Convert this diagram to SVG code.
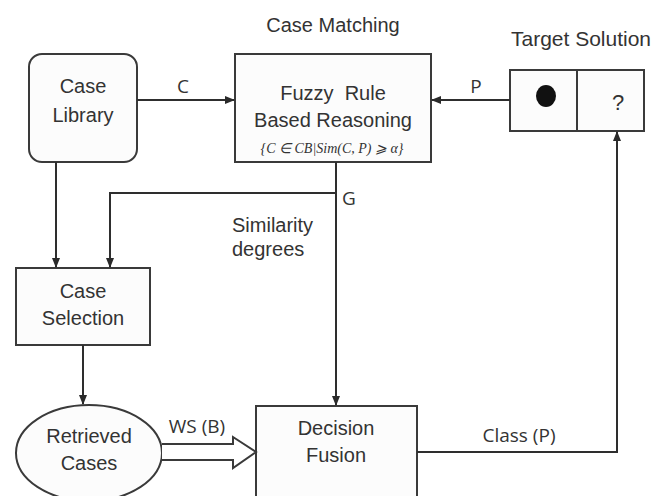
<svg xmlns="http://www.w3.org/2000/svg" width="653" height="496" viewBox="0 0 653 496">
<defs>
<marker id="ah" markerWidth="10" markerHeight="8" refX="9" refY="4" orient="auto" markerUnits="userSpaceOnUse">
<path d="M0,0 L10,4 L0,8 Z" fill="#2a2a2a"/>
</marker>
<style>
.box{fill:#fcfcfc;stroke:#3a3a3a;stroke-width:2}
.t{font-family:"Liberation Sans",Arial,sans-serif;font-size:20px;fill:#333;text-anchor:middle}
.lb{font-family:"Open Sans","Liberation Sans",sans-serif;font-size:19px;fill:#333;text-anchor:middle}
.ln{fill:none;stroke:#2e2e2e;stroke-width:2}
</style>
</defs>
<rect width="653" height="496" fill="#ffffff"/>
<text class="t" x="333" y="32">Case Matching</text>
<text class="t" x="581" y="46" style="font-size:21px">Target Solution</text>
<g id="case-library">
<rect class="box" x="29" y="54" width="108" height="108" rx="13"/>
<text class="t" x="83" y="93">Case</text>
<text class="t" x="83" y="122">Library</text>
</g>
<g id="fuzzy">
<rect class="box" x="235" y="54" width="196" height="108"/>
<text class="t" x="333" y="100" xml:space="preserve">Fuzzy  Rule</text>
<text class="t" x="333" y="127">Based Reasoning</text>
<text x="332" y="153" style="font-family:'Liberation Serif',serif;font-style:italic;font-size:14px;fill:#333;text-anchor:middle">{C ∈ CB|Sim(C, P) ⩾ α}</text>
</g>
<g id="target">
<rect class="box" x="510" y="70" width="134" height="61"/>
<line x1="577" y1="70" x2="577" y2="131" stroke="#3a3a3a" stroke-width="2"/>
<ellipse cx="546" cy="96" rx="10" ry="11" fill="#111"/>
<text class="t" x="618" y="110" style="font-size:22px">?</text>
</g>
<g id="case-selection">
<rect class="box" x="16" y="268" width="134" height="77"/>
<text class="t" x="83" y="298">Case</text>
<text class="t" x="83" y="325">Selection</text>
</g>
<g id="retrieved">
<ellipse class="box" cx="89" cy="453" rx="73" ry="48"/>
<text class="t" x="89" y="443">Retrieved</text>
<text class="t" x="89" y="470">Cases</text>
</g>
<g id="decision">
<rect class="box" x="256" y="406" width="161" height="100"/>
<text class="t" x="336" y="435">Decision</text>
<text class="t" x="336" y="462">Fusion</text>
</g>
<g id="connectors">
<line class="ln" x1="137" y1="100" x2="234" y2="100" marker-end="url(#ah)"/>
<line class="ln" x1="510" y1="100" x2="432" y2="100" marker-end="url(#ah)"/>
<line class="ln" x1="56" y1="162" x2="56" y2="267" marker-end="url(#ah)"/>
<polyline class="ln" points="336,193 110,193 110,267" marker-end="url(#ah)"/>
<line class="ln" x1="336" y1="162" x2="336" y2="405" marker-end="url(#ah)"/>
<line class="ln" x1="83" y1="345" x2="83" y2="404" marker-end="url(#ah)"/>
<polyline class="ln" points="417,452 617,452 617,132" marker-end="url(#ah)"/>
<path d="M162,444 L233,444 L233,437 L256,452 L233,468 L233,460 L162,460" fill="#fff" stroke="#3a3a3a" stroke-width="2"/>
<text class="lb" x="183" y="93">C</text>
<text class="lb" x="476" y="93">P</text>
<text class="lb" x="349" y="205">G</text>
<text class="lb" x="197" y="433">WS (B)</text>
<text class="lb" x="519" y="442">Class (P)</text>
<text class="t" x="232" y="232" style="text-anchor:start">Similarity</text>
<text class="t" x="232" y="256" style="text-anchor:start">degrees</text>
</g>
</svg>
